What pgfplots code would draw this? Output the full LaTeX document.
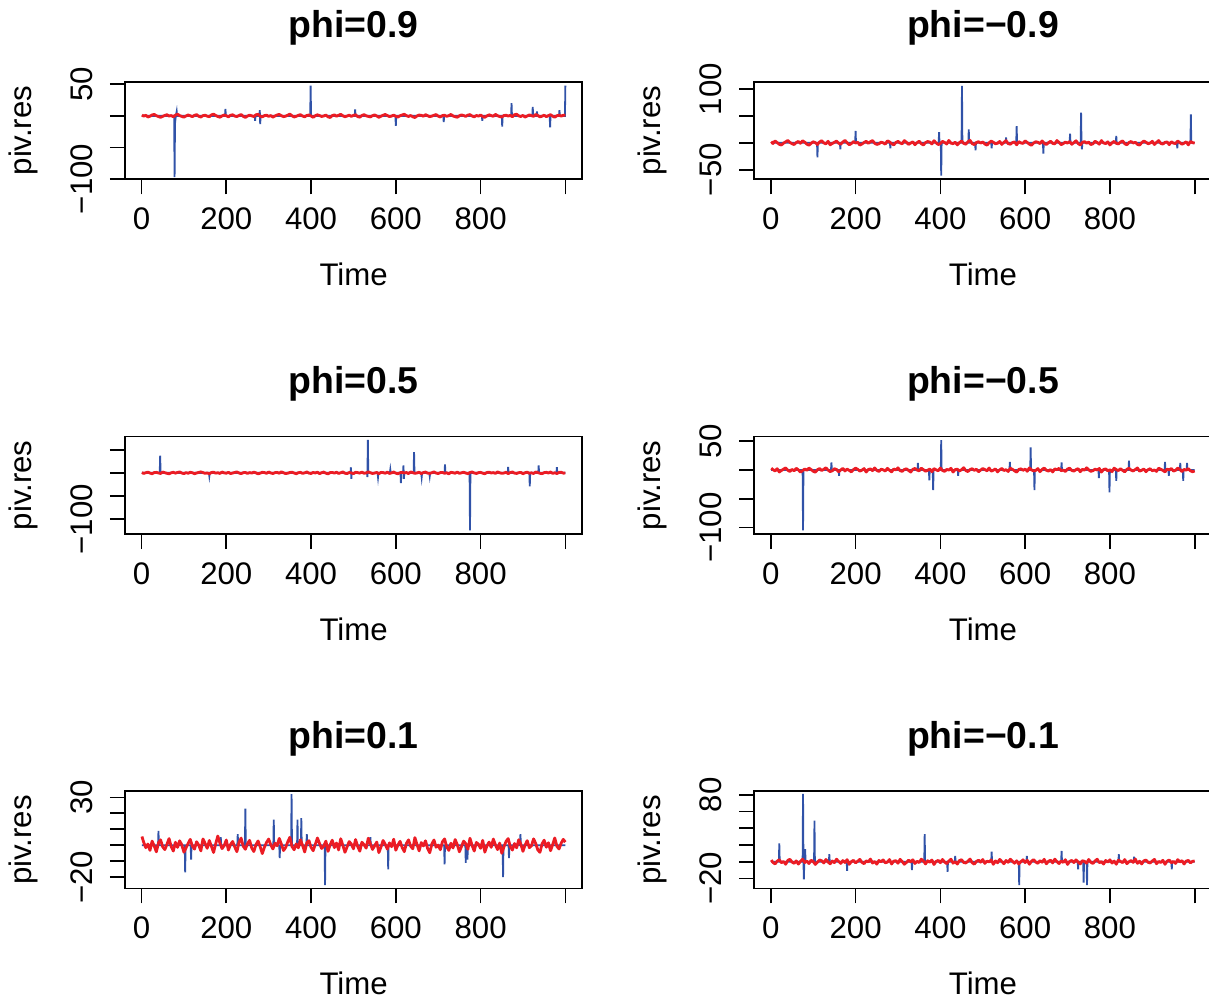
\documentclass[border=0pt]{standalone}
\usepackage{fontspec}
\setmainfont{Liberation Sans}
\usepackage{pgfplots}
\pgfplotsset{compat=1.18}
\definecolor{rblue}{RGB}{48,82,168}
\definecolor{rred}{RGB}{235,28,36}
\newcommand{\tickfont}{\fontsize{15.6bp}{18bp}\selectfont}
\newcommand{\titlefont}{\bfseries\fontsize{18.7bp}{22bp}\selectfont}
\pgfplotsset{
  panel/.style={
    scale only axis, width=228.65bp, height=48.8bp,
    xmin=-38.96, xmax=1039.96,
    xtick={0,200,400,600,800,1000},
    xticklabels={0,200,400,600,800,{}},
    axis line style={line width=0.85bp},
    every tick/.style={black, line width=0.85bp},
    tick align=outside,
    major tick length=7.5bp,
    xtick pos=left, ytick pos=left,
    tick label style={font=\tickfont, inner sep=0pt},
    /pgf/number format/assume math mode=true,
    yticklabel style={rotate=90, anchor=south},
    xticklabel style={anchor=base},
    xticklabel shift=17.5bp,
    yticklabel shift=8.5bp,
    anchor=north west,
  },
  blue/.style={rblue, line width=0.9bp},
  red/.style={rred, line width=1.4bp, line join=round},
}
\begin{document}
\begin{tikzpicture}
\path[use as bounding box] (0,0) rectangle (604.5bp,-499.5bp);
\clip (0,0) rectangle (604.5bp,-499.5bp);
% ---------------- phi = 0.9
\begin{axis}[panel, at={(62.5bp,-40.85bp)}, ymin=-100.5, ymax=54.1,
  ytick={-100,-50,0,50}, yticklabels={−100,{},{},50}]
\addplot[blue] coordinates {(1,0)(77,0)(78,-97)(79,-12)(81,0)(83,7)(84,0)(197,0)(198,11)(199,0)(267,0)(268,-8)(269,0)(278,0)(279,9)(280,-13)(281,0)(398,0)(399,48)(400,0)(503,0)(504,10)(505,0)(599,0)(600,-16)(601,0)(712,0)(713,-10)(714,0)(803,0)(804,-8)(805,0)(850,0)(851,-17)(852,0)(872,0)(873,20)(874,0)(922,0)(923,14)(924,0)(932,0)(933,7)(934,0)(963,0)(964,-18)(965,0)(985,0)(986,9)(987,0)(999,0)(1000,48)};
\addplot[red] coordinates {
(1,1.2)(5,-0.4)(10,0.9)(15,-1.8)(20,-0.6)(25,1.5)(30,2.3)(35,0.2)(40,-1.1)(45,-2.4)
(50,-0.8)(55,0.7)(60,1.9)(65,-0.3)(70,0.5)(75,-1.5)(80,1.1)(85,2.6)(90,0.4)(95,-0.9)
(100,-2.1)(105,-0.2)(110,1.4)(115,0.1)(120,-1.3)(125,0.8)(130,2.0)(135,-0.7)(140,-1.9)(145,0.3)
(150,1.0)(155,-0.5)(160,-1.4)(165,1.6)(170,2.7)(175,0.6)(180,-1.0)(185,-2.2)(190,-0.1)(195,1.3)
(200,0.2)(205,-1.6)(210,0.9)(215,1.8)(220,-0.4)(225,-1.2)(230,0.6)(235,2.1)(240,-0.8)(245,-2.5)
(250,-0.3)(255,1.2)(260,0.0)(265,-1.1)(270,1.7)(275,2.4)(280,-0.6)(285,-1.7)(290,0.4)(295,1.1)
(300,-0.9)(305,0.5)(310,-2.0)(315,-0.2)(320,1.5)(325,2.2)(330,0.3)(335,-1.3)(340,-0.5)(345,1.0)
(350,2.8)(355,0.1)(360,-1.8)(365,-0.7)(370,0.8)(375,1.9)(380,-0.4)(385,-1.5)(390,0.6)(395,1.4)
(400,-0.3)(405,-2.3)(410,0.2)(415,1.7)(420,0.5)(425,-1.0)(430,-0.2)(435,1.3)(440,-1.6)(445,-2.6)
(450,0.4)(455,1.6)(460,-0.6)(465,0.9)(470,2.5)(475,0.0)(480,-1.4)(485,-0.3)(490,1.1)(495,-0.8)
(500,0.7)(505,1.8)(510,-1.2)(515,-2.1)(520,0.5)(525,2.0)(530,0.1)(535,-0.9)(540,-1.7)(545,0.3)
(550,1.5)(555,-0.2)(560,-2.4)(565,-0.6)(570,1.0)(575,2.2)(580,0.4)(585,-1.1)(590,-0.4)(595,1.2)
(600,-0.7)(605,-1.9)(610,0.2)(615,1.4)(620,2.6)(625,0.3)(630,-1.0)(635,0.6)(640,-1.5)(645,-2.7)
(650,-0.1)(655,1.3)(660,0.8)(665,-0.6)(670,1.9)(675,0.2)(680,-1.3)(685,-0.4)(690,0.9)(695,2.1)
(700,-0.5)(705,-1.8)(710,0.4)(715,1.0)(720,-0.8)(725,0.3)(730,2.3)(735,-0.2)(740,-1.4)(745,-2.2)
(750,0.1)(755,1.6)(760,0.5)(765,-0.9)(770,1.2)(775,2.0)(780,-0.3)(785,-1.6)(790,0.6)(795,-0.5)
(800,1.4)(805,-1.2)(810,-2.3)(815,0.0)(820,1.7)(825,0.4)(830,-0.7)(835,2.4)(840,0.2)(845,-1.1)
(850,-1.9)(855,0.5)(860,1.1)(865,-0.4)(870,0.8)(875,-1.5)(880,1.8)(885,2.6)(890,-0.1)(895,-1.0)
(900,0.7)(905,-2.0)(910,-0.3)(915,1.5)(920,0.3)(925,-0.8)(930,2.2)(935,0.6)(940,-1.7)(945,-0.5)
(950,1.0)(955,-1.3)(960,0.4)(965,1.9)(970,-0.6)(975,-2.1)(980,0.2)(985,1.2)(990,-0.4)(995,0.8)(1000,1.5)};
\end{axis}
% ---------------- phi = -0.9
\begin{axis}[panel, at={(377.15bp,-40.85bp)}, ymin=-67.8, ymax=113.6,
  ytick={-50,0,50,100}, yticklabels={−50,{},{},100}]
\addplot[blue] coordinates {(1,0)(109,0)(110,-27)(111,0)(163,0)(164,-12)(165,0)(199,0)(200,22)(201,0)(281,0)(282,-10)(283,0)(396,0)(397,20)(398,0)(401,0)(402,-61)(403,0)(450,0)(451,106)(452,0)(466,0)(467,25)(468,0)(482,0)(483,-14)(484,0)(520,0)(521,-10)(522,0)(554,0)(555,10)(556,0)(579,0)(580,31)(581,0)(642,0)(643,-20)(644,0)(705,0)(706,17)(707,0)(731,0)(732,56)(733,0)(734,-12)(735,0)(814,0)(815,13)(816,0)(958,0)(959,-10)(960,0)(990,0)(991,53)(992,0)(1000,0)};
\addplot[red] coordinates {
(1,2.1)(5,-1.3)(10,3.5)(15,0.4)(20,-2.8)(25,-4.1)(30,-0.6)(35,1.9)(40,4.3)(45,0.8)
(50,-1.7)(55,-3.2)(60,0.5)(65,2.6)(70,-0.9)(75,3.8)(80,1.2)(85,-2.4)(90,-4.4)(95,-1.0)
(100,2.0)(105,0.3)(110,-3.1)(115,1.5)(120,4.0)(125,-0.2)(130,-2.0)(135,2.9)(140,-3.7)(145,-1.2)
(150,0.9)(155,3.3)(160,-0.7)(165,-2.6)(170,1.6)(175,4.5)(180,0.1)(185,-3.5)(190,-1.5)(195,2.4)
(200,-0.4)(205,1.1)(210,-4.2)(215,-2.2)(220,0.6)(225,3.0)(230,-1.1)(235,2.2)(240,4.2)(245,-0.8)
(250,-3.0)(255,-1.9)(260,1.3)(265,0.0)(270,-2.5)(275,3.6)(280,1.7)(285,-1.4)(290,-3.9)(295,0.7)
(300,2.8)(305,-0.3)(310,-1.8)(315,4.1)(320,1.0)(325,-2.9)(330,-0.5)(335,1.8)(340,-3.6)(345,0.2)
(350,3.1)(355,-1.6)(360,-4.0)(365,0.4)(370,2.5)(375,1.4)(380,-2.1)(385,3.9)(390,-0.1)(395,-3.3)
(400,-1.2)(405,2.7)(410,0.8)(415,-2.3)(420,4.4)(425,-0.6)(430,-1.7)(435,1.2)(440,-3.8)(445,0.3)
(450,3.4)(455,-0.9)(460,-2.7)(465,1.9)(470,4.6)(475,-1.3)(480,-3.4)(485,0.5)(490,2.1)(495,-0.4)
(500,1.6)(505,-2.2)(510,-4.3)(515,0.1)(520,3.2)(525,1.0)(530,-1.9)(535,-0.7)(540,2.6)(545,-3.0)
(550,0.9)(555,4.0)(560,-1.5)(565,-2.6)(570,0.4)(575,1.7)(580,-3.7)(585,2.3)(590,-0.2)(595,-1.1)
(600,3.7)(605,0.6)(610,-2.4)(615,-4.6)(620,-0.3)(625,2.0)(630,1.1)(635,-1.6)(640,3.5)(645,-0.8)
(650,-3.2)(655,0.2)(660,2.9)(665,-1.0)(670,-2.0)(675,4.3)(680,0.7)(685,-3.5)(690,-1.4)(695,1.5)
(700,-0.5)(705,2.4)(710,-2.8)(715,0.3)(720,3.8)(725,-1.2)(730,-4.1)(735,0.8)(740,2.2)(745,-0.6)
(750,1.3)(755,-3.3)(760,-1.8)(765,3.0)(770,0.5)(775,-2.5)(780,4.1)(785,-0.2)(790,-1.5)(795,1.8)
(800,-3.9)(805,0.0)(810,2.7)(815,-0.9)(820,-2.1)(825,1.4)(830,3.6)(835,-1.7)(840,-3.6)(845,0.6)
(850,2.5)(855,-0.3)(860,1.0)(865,-2.9)(870,-4.2)(875,0.2)(880,3.3)(885,1.2)(890,-1.8)(895,-0.4)
(900,2.8)(905,-3.1)(910,0.7)(915,4.2)(920,-1.1)(925,-2.3)(930,0.9)(935,1.6)(940,-3.4)(945,2.0)
(950,-0.7)(955,-1.3)(960,3.4)(965,0.4)(970,-2.7)(975,-0.6)(980,1.9)(985,-3.8)(990,2.6)(995,0.3)(1000,-0.6)};
\end{axis}
% ---------------- phi = 0.5
\begin{axis}[panel, at={(62.5bp,-218.25bp)}, ymin=-132.2, ymax=78.5,
  ytick={-100,-50,0,50}, yticklabels={−100,{},{},{}}]
\addplot[blue] coordinates {(1,0)(43,0)(44,37)(45,0)(159,0)(160,-7)(161,0)(493,0)(494,12)(495,-13)(496,0)(532,0)(533,-9)(534,71)(535,0)(557,0)(558,-9)(559,0)(586,0)(587,7)(588,0)(611,0)(612,-22)(613,0)(617,0)(618,16)(619,-13)(620,0)(642,0)(643,45)(644,0)(660,0)(661,-9)(662,0)(679,0)(680,-7)(681,0)(715,0)(716,18)(717,0)(774,0)(775,-124)(776,0)(864,0)(865,13)(866,0)(915,0)(916,-29)(917,0)(936,0)(937,16)(938,0)(979,0)(980,12)(981,0)(1000,0)};
\addplot[red] coordinates {
(1,0.8)(5,-1.2)(10,0.3)(15,1.6)(20,-0.5)(25,-1.9)(30,0.7)(35,1.1)(40,-0.2)(45,-1.4)
(50,1.8)(55,0.4)(60,-1.0)(65,-2.2)(70,0.1)(75,1.3)(80,-0.7)(85,0.9)(90,2.0)(95,-0.4)
(100,-1.6)(105,0.5)(110,-0.9)(115,1.4)(120,0.2)(125,-1.8)(130,-0.3)(135,1.0)(140,2.2)(145,0.6)
(150,-1.1)(155,-0.1)(160,-2.0)(165,0.8)(170,1.5)(175,-0.6)(180,0.3)(185,-1.3)(190,1.9)(195,0.0)
(200,-0.8)(205,1.2)(210,-1.5)(215,-0.4)(220,0.9)(225,2.1)(230,-0.2)(235,-1.7)(240,0.4)(245,1.0)
(250,-1.2)(255,0.6)(260,-0.5)(265,1.7)(270,0.1)(275,-2.1)(280,-0.6)(285,1.3)(290,0.7)(295,-1.0)
(300,1.9)(305,-0.3)(310,-1.4)(315,0.5)(320,1.1)(325,-0.9)(330,2.3)(335,0.2)(340,-1.6)(345,-0.7)
(350,0.8)(355,1.6)(360,-0.4)(365,-1.9)(370,0.3)(375,1.2)(380,-1.1)(385,0.0)(390,2.0)(395,-0.6)
(400,-1.3)(405,0.9)(410,-0.2)(415,1.5)(420,-1.7)(425,0.4)(430,1.8)(435,-0.8)(440,-2.2)(445,0.6)
(450,1.0)(455,-0.5)(460,1.4)(465,-1.2)(470,0.2)(475,2.1)(480,-0.9)(485,-1.5)(490,0.7)(495,0.1)
(500,-1.8)(505,1.3)(510,0.5)(515,-0.6)(520,1.7)(525,-1.0)(530,-0.1)(535,2.2)(540,0.3)(545,-1.4)
(550,-0.4)(555,0.9)(560,-1.9)(565,1.1)(570,0.6)(575,-0.8)(580,1.6)(585,-1.3)(590,0.0)(595,1.9)
(600,-0.7)(605,-2.0)(610,0.4)(615,1.2)(620,-0.3)(625,0.8)(630,-1.6)(635,2.0)(640,0.5)(645,-1.1)
(650,-0.2)(655,1.4)(660,-1.7)(665,0.7)(670,1.8)(675,-0.6)(680,-1.2)(685,0.3)(690,2.2)(695,-0.5)
(700,-1.5)(705,0.6)(710,1.0)(715,-0.9)(720,0.2)(725,-2.1)(730,1.3)(735,0.4)(740,-0.8)(745,1.7)
(750,-1.1)(755,0.1)(760,1.5)(765,-0.4)(770,-1.8)(775,0.9)(780,2.0)(785,-0.2)(790,-1.4)(795,0.5)
(800,1.1)(805,-0.7)(810,-1.9)(815,0.8)(820,1.6)(825,-0.3)(830,0.6)(835,-1.2)(840,2.1)(845,0.2)
(850,-1.0)(855,-0.4)(860,1.3)(865,-1.6)(870,0.7)(875,1.9)(880,-0.5)(885,-1.3)(890,0.4)(895,1.0)
(900,-2.0)(905,0.3)(910,1.5)(915,-0.8)(920,0.1)(925,-1.4)(930,1.8)(935,0.6)(940,-0.9)(945,-1.7)
(950,0.5)(955,1.2)(960,-0.3)(965,2.0)(970,-1.1)(975,0.2)(980,-1.5)(985,0.9)(990,1.4)(995,-0.6)(1000,-0.4)};
\end{axis}
% ---------------- phi = -0.5
\begin{axis}[panel, at={(377.15bp,-218.25bp)}, ymin=-111.4, ymax=58.1,
  ytick={-100,-50,0,50}, yticklabels={−100,{},{},50}]
\addplot[blue] coordinates {(1,0)(75,0)(76,-105)(77,0)(142,0)(143,13)(144,0)(160,0)(161,-10)(162,0)(346,0)(347,12)(348,0)(373,0)(374,-18)(375,0)(382,0)(383,-35)(384,0)(401,0)(402,52)(403,0)(441,0)(442,-10)(443,0)(563,0)(564,14)(565,0)(612,0)(613,39)(614,0)(621,0)(622,-35)(623,0)(685,0)(686,13)(687,0)(773,0)(774,-14)(775,0)(798,0)(799,-39)(800,0)(814,0)(815,-19)(816,0)(844,0)(845,16)(846,0)(929,0)(930,14)(931,0)(938,0)(939,-10)(940,0)(965,0)(966,12)(967,0)(972,0)(973,-19)(974,0)(981,0)(982,12)(983,0)(1000,0)};
\addplot[red] coordinates {
(1,3.0)(5,0.6)(10,-1.8)(15,2.2)(20,-3.5)(25,-0.9)(30,1.4)(35,3.6)(40,-0.4)(45,-2.6)
(50,1.0)(55,-1.5)(60,2.9)(65,0.2)(70,-3.8)(75,-1.1)(80,1.8)(85,-0.6)(90,3.3)(95,0.7)
(100,-2.3)(105,-3.9)(110,0.4)(115,2.5)(120,-1.0)(125,1.2)(130,3.8)(135,-0.2)(140,-2.9)(145,-1.4)
(150,2.1)(155,0.9)(160,-3.2)(165,0.0)(170,2.7)(175,-1.7)(180,1.5)(185,-0.8)(190,-3.4)(195,0.6)
(200,3.1)(205,1.1)(210,-2.0)(215,-0.3)(220,2.4)(225,-3.6)(230,0.8)(235,1.9)(240,-1.2)(245,3.5)
(250,-0.7)(255,-2.7)(260,1.3)(265,0.3)(270,-1.9)(275,2.8)(280,-0.5)(285,-3.3)(290,1.6)(295,0.1)
(300,3.7)(305,-1.3)(310,-2.4)(315,0.9)(320,2.0)(325,-0.8)(330,-3.7)(335,1.1)(340,2.6)(345,-0.1)
(350,-1.6)(355,3.2)(360,0.5)(365,-2.2)(370,-0.6)(375,1.7)(380,-3.0)(385,2.3)(390,0.2)(395,-1.4)
(400,3.4)(405,-0.9)(410,-2.5)(415,1.0)(420,-0.3)(425,2.9)(430,-3.6)(435,0.7)(440,1.4)(445,-1.8)
(450,0.4)(455,3.9)(460,-1.1)(465,-2.8)(470,0.6)(475,2.2)(480,-0.7)(485,1.3)(490,-3.2)(495,-0.2)
(500,2.5)(505,0.8)(510,-1.6)(515,3.4)(520,-2.1)(525,-0.4)(530,1.8)(535,-3.4)(540,0.3)(545,2.7)
(550,-1.0)(555,0.5)(560,-2.6)(565,3.0)(570,1.2)(575,-1.5)(580,-3.8)(585,0.9)(590,2.0)(595,-0.6)
(600,1.5)(605,-2.3)(610,3.6)(615,0.1)(620,-1.7)(625,-0.8)(630,2.4)(635,-3.0)(640,1.0)(645,3.3)
(650,-0.5)(655,-2.0)(660,0.7)(665,-3.5)(670,1.9)(675,0.4)(680,2.8)(685,-1.3)(690,-0.2)(695,-2.7)
(700,1.6)(705,3.1)(710,-0.9)(715,-1.9)(720,0.5)(725,2.3)(730,-3.1)(735,1.2)(740,-0.4)(745,3.7)
(750,0.2)(755,-2.4)(760,-1.2)(765,1.4)(770,-0.1)(775,2.6)(780,-3.7)(785,0.8)(790,1.9)(795,-1.6)
(800,0.3)(805,-2.9)(810,3.2)(815,0.6)(820,-1.1)(825,2.1)(830,-0.7)(835,-3.3)(840,1.1)(845,2.9)
(850,-0.3)(855,-1.8)(860,0.9)(865,3.5)(870,-2.2)(875,-0.5)(880,1.7)(885,-3.0)(890,0.4)(895,2.2)
(900,-1.4)(905,0.0)(910,-2.5)(915,3.0)(920,1.3)(925,-0.8)(930,-3.4)(935,1.5)(940,0.2)(945,2.5)
(950,-1.9)(955,-0.6)(960,3.4)(965,0.7)(970,-2.8)(975,1.0)(980,-0.4)(985,2.4)(990,-1.5)(995,-3.1)(1000,-1.8)};
\end{axis}
% ---------------- phi = 0.1
\begin{axis}[panel, at={(62.5bp,-395.4bp)}, ymin=-27.0, ymax=34.1,
  ytick={-20,-10,0,10,20,30}, yticklabels={−20,{},{},{},{},30}]
\addplot[blue] coordinates {(1,0)(39,0)(40,9)(41,0)(102,0)(103,-17)(104,0)(116,0)(117,-9)(118,0)(186,0)(187,5)(188,0)(226,0)(227,7)(228,0)(244,0)(245,23)(246,0)(311,0)(312,16)(313,0)(325,0)(326,-8)(327,0)(353,0)(354,32)(355,0)(367,0)(368,16)(369,0)(376,0)(377,17)(378,0)(389,0)(390,7)(391,0)(432,0)(433,-25)(434,0)(539,0)(540,5)(541,0)(581,0)(582,-15)(583,0)(714,0)(715,-12)(716,0)(764,0)(765,-11)(766,0)(768,0)(769,-9)(770,0)(852,0)(853,-20)(854,0)(866,0)(867,-8)(868,0)(893,0)(894,7)(895,0)(1000,0)};
\addplot[red] coordinates {
(1,5.5)(5,2.0)(10,-1.5)(15,0.8)(20,-3.2)(25,2.6)(30,-0.4)(35,-4.1)(40,1.5)(45,3.4)
(50,-1.0)(55,-2.7)(60,0.6)(65,4.2)(70,-0.8)(75,-3.6)(80,1.9)(85,-1.3)(90,2.8)(95,0.3)
(100,-4.3)(105,-1.6)(110,1.1)(115,3.7)(120,-0.5)(125,-2.4)(130,2.2)(135,0.1)(140,-3.5)(145,4.0)
(150,1.2)(155,-1.9)(160,3.0)(165,-0.7)(170,-4.5)(175,0.9)(180,5.8)(185,1.4)(190,-2.1)(195,-0.2)
(200,3.3)(205,-3.0)(210,0.5)(215,2.4)(220,-1.1)(225,-4.0)(230,1.7)(235,4.5)(240,-0.6)(245,-2.5)
(250,1.0)(255,3.1)(260,-1.7)(265,-3.9)(270,0.4)(275,2.7)(280,-0.9)(285,-5.2)(290,-1.2)(295,1.8)
(300,3.9)(305,0.2)(310,-2.3)(315,1.3)(320,-0.3)(325,4.3)(330,0.7)(335,-3.3)(340,-1.4)(345,2.1)
(350,5.0)(355,-0.8)(360,-2.8)(365,0.9)(370,-1.6)(375,3.5)(380,-0.1)(385,-4.2)(390,1.6)(395,2.9)
(400,-1.3)(405,-3.4)(410,0.6)(415,4.6)(420,1.1)(425,-2.0)(430,-0.5)(435,2.6)(440,-3.8)(445,0.3)
(450,3.2)(455,-1.5)(460,1.4)(465,-2.9)(470,4.1)(475,0.0)(480,-4.4)(485,-1.0)(490,2.3)(495,0.8)
(500,-2.2)(505,3.6)(510,-0.7)(515,-3.7)(520,1.9)(525,0.4)(530,-1.8)(535,4.4)(540,1.0)(545,-2.6)
(550,-0.3)(555,2.0)(560,-4.6)(565,-1.1)(570,3.0)(575,0.6)(580,-2.4)(585,1.5)(590,-0.9)(595,3.8)
(600,-3.1)(605,0.2)(610,2.5)(615,-1.4)(620,-4.0)(625,1.2)(630,3.4)(635,-0.6)(640,-2.2)(645,4.8)
(650,0.5)(655,-3.5)(660,1.7)(665,-0.4)(670,2.8)(675,-2.0)(680,-4.7)(685,0.8)(690,3.3)(695,-1.2)
(700,0.1)(705,-2.8)(710,2.2)(715,4.0)(720,-0.9)(725,-3.2)(730,1.3)(735,-1.7)(740,3.6)(745,0.4)
(750,-4.1)(755,-0.7)(760,2.6)(765,1.0)(770,-2.5)(775,4.4)(780,-0.2)(785,-3.6)(790,1.8)(795,0.6)
(800,-1.9)(805,3.1)(810,-4.3)(815,-0.4)(820,2.0)(825,-1.3)(830,3.9)(835,0.3)(840,-2.7)(845,1.4)
(850,-5.0)(855,-1.0)(860,2.4)(865,4.2)(870,-0.8)(875,-3.0)(880,1.1)(885,-1.6)(890,3.5)(895,0.7)
(900,-3.8)(905,0.2)(910,2.9)(915,-1.5)(920,-0.3)(925,4.0)(930,1.2)(935,-2.9)(940,-4.4)(945,0.9)
(950,3.2)(955,-1.2)(960,1.6)(965,-3.4)(970,0.4)(975,4.6)(980,-0.6)(985,-2.3)(990,1.3)(995,3.7)(1000,2.0)};
\end{axis}
% ---------------- phi = -0.1
\begin{axis}[panel, at={(377.15bp,-395.4bp)}, ymin=-31.9, ymax=84.8,
  ytick={-20,0,20,40,60,80}, yticklabels={−20,{},{},{},{},80}]
\addplot[blue] coordinates {(1,0)(19,0)(20,22)(21,0)(75,0)(76,81)(77,0)(78,-21)(79,0)(81,15)(82,0)(102,0)(103,49)(104,0)(137,0)(138,9)(139,0)(179,0)(180,-11)(181,0)(332,0)(333,-10)(334,0)(362,0)(363,33)(364,0)(416,0)(417,-12)(418,0)(434,0)(435,7)(436,0)(520,0)(521,12)(522,0)(585,0)(586,-28)(587,0)(603,0)(604,7)(605,0)(685,0)(686,13)(687,0)(724,0)(725,-9)(726,0)(737,0)(738,-25)(739,0)(745,0)(746,-28)(747,0)(820,0)(821,9)(822,0)(856,0)(857,6)(858,0)(945,0)(946,-9)(947,0)(1000,0)};
\addplot[red] coordinates {
(1,2.0)(5,-0.8)(10,-2.6)(15,0.7)(20,2.4)(25,-1.2)(30,0.3)(35,-3.0)(40,1.6)(45,2.9)
(50,-0.4)(55,-1.9)(60,1.0)(65,-2.8)(70,0.5)(75,3.1)(80,-1.0)(85,0.8)(90,-2.2)(95,1.8)
(100,0.2)(105,-3.2)(110,-0.6)(115,2.1)(120,1.2)(125,-1.5)(130,2.7)(135,-0.3)(140,-2.5)(145,0.9)
(150,-1.1)(155,3.0)(160,0.4)(165,-2.0)(170,1.4)(175,-0.9)(180,2.5)(185,-3.1)(190,0.1)(195,1.7)
(200,-1.4)(205,0.6)(210,2.8)(215,-0.7)(220,-2.4)(225,1.1)(230,-0.2)(235,3.2)(240,-1.6)(245,0.3)
(250,-2.9)(255,1.5)(260,0.0)(265,2.2)(270,-1.3)(275,-0.5)(280,2.6)(285,-2.7)(290,0.7)(295,1.3)
(300,-1.8)(305,2.9)(310,0.2)(315,-3.0)(320,-0.8)(325,1.9)(330,-0.1)(335,2.3)(340,-2.1)(345,0.5)
(350,-1.0)(355,3.1)(360,0.9)(365,-2.6)(370,1.2)(375,-0.6)(380,2.0)(385,-3.3)(390,0.4)(395,1.6)
(400,-1.2)(405,2.7)(410,-0.4)(415,-2.3)(420,0.8)(425,3.0)(430,-1.7)(435,0.1)(440,-2.8)(445,1.4)
(450,2.4)(455,-0.9)(460,-1.5)(465,0.6)(470,3.2)(475,-1.1)(480,-2.9)(485,0.3)(490,1.8)(495,-0.5)
(500,2.6)(505,-2.0)(510,0.7)(515,-0.2)(520,2.1)(525,-3.1)(530,1.0)(535,-1.3)(540,2.8)(545,0.2)
(550,-2.4)(555,1.5)(560,-0.7)(565,3.0)(570,0.5)(575,-1.8)(580,1.1)(585,-2.7)(590,0.0)(595,2.3)
(600,-1.0)(605,1.7)(610,-3.0)(615,0.6)(620,2.5)(625,-0.4)(630,-1.9)(635,1.3)(640,-0.6)(645,2.9)
(650,-2.5)(655,0.4)(660,1.9)(665,-1.4)(670,3.1)(675,0.1)(680,-2.2)(685,0.9)(690,-0.8)(695,2.4)
(700,-3.2)(705,0.3)(710,1.6)(715,-1.0)(720,2.2)(725,-0.3)(730,-2.6)(735,1.2)(740,0.5)(745,-1.7)
(750,2.7)(755,-0.6)(760,-2.1)(765,1.0)(770,3.0)(775,-1.2)(780,0.2)(785,-2.8)(790,1.5)(795,-0.5)
(800,2.3)(805,-1.6)(810,0.8)(815,-3.0)(820,1.9)(825,0.4)(830,-1.1)(835,2.6)(840,-2.3)(845,0.0)
(850,1.4)(855,-0.8)(860,3.2)(865,-1.9)(870,0.6)(875,-2.6)(880,1.1)(885,2.0)(890,-0.7)(895,-1.5)
(900,0.9)(905,2.8)(910,-2.4)(915,0.3)(920,-0.9)(925,1.7)(930,-3.1)(935,0.7)(940,2.1)(945,-1.3)
(950,0.4)(955,-2.0)(960,2.5)(965,-0.2)(970,1.3)(975,-2.7)(980,0.8)(985,1.6)(990,-1.4)(995,0.5)(1000,0.9)};
\end{axis}
% ---------------- titles and axis labels
\foreach \x/\t/\y in {176.83/phi=0.9/-18.5, 491.48/phi=−0.9/-18.5,
                      176.83/phi=0.5/-196.5, 491.48/phi=−0.5/-196.5,
                      176.83/phi=0.1/-374, 491.48/phi=−0.1/-374}
  \node[font=\titlefont, anchor=base, inner sep=0pt] at (\x bp,\y bp) {\t};
\foreach \x in {176.83, 491.48}
  \foreach \y in {-142.5,-320,-497.35}
    \node[font=\tickfont, anchor=base, inner sep=0pt] at (\x bp,\y bp) {Time};
\foreach \x in {15.75, 330.4}
  \foreach \y in {-65.25,-242.7,-419.95}
    \node[font=\tickfont, anchor=base, inner sep=0pt, rotate=90] at (\x bp,\y bp) {piv.res};
\end{tikzpicture}
\end{document}
